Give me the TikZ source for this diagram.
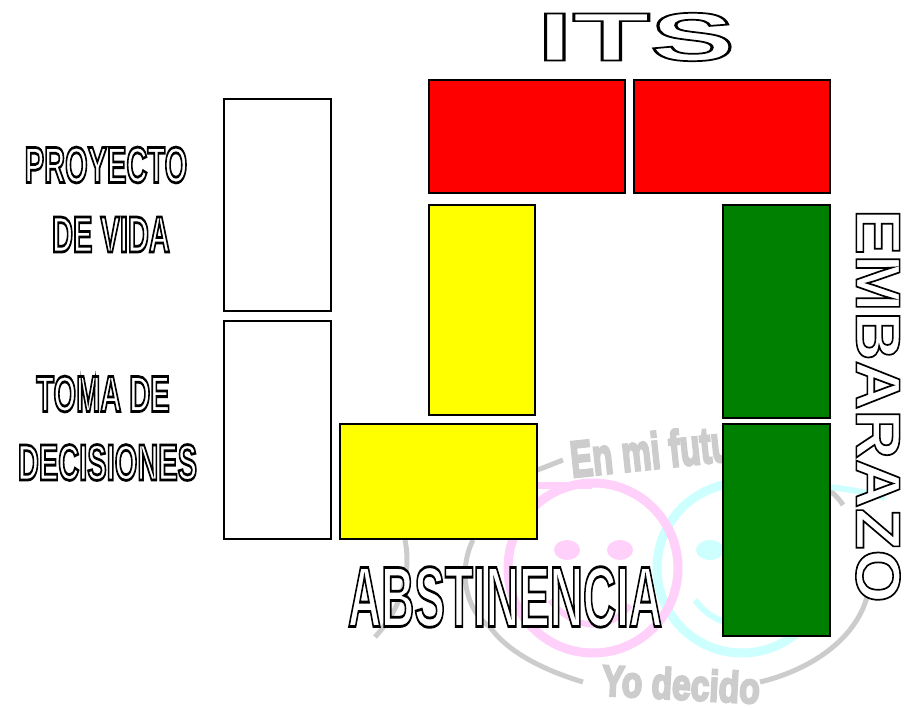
\documentclass[tikz,border=0pt]{standalone}
\usepackage{fontspec}
\setmainfont{Liberation Sans}
\newcommand{\outl}[2]{{\bfseries\color{white}\special{pdf:code 2 Tr 0 0 0 RG #1 w}#2\special{pdf:code 0 Tr}}}
\newcommand{\fatt}[1]{{\bfseries\special{pdf:code 2 Tr 0.8 0.8 0.8 RG 1.6 w}#1\special{pdf:code 0 Tr}}}
\definecolor{pinkw}{RGB}{255,208,250}
\definecolor{cyanw}{RGB}{205,255,255}
\definecolor{greyw}{RGB}{204,204,204}
\definecolor{rd}{RGB}{255,0,0}
\definecolor{yl}{RGB}{255,255,0}
\definecolor{gr}{RGB}{0,128,0}
\tikzset{
 x=1pt,y=-1pt,
 box/.style={draw=black,line width=2pt,inner sep=0pt},
 outlabel/.style={inner sep=0pt,transform shape},
 wm/.style={draw=greyw,line width=5pt},
 markwm/.style={inner sep=0pt,text=greyw,font=\bfseries\fontsize{30}{30}\selectfont,transform shape},
}
\begin{document}
\begin{tikzpicture}
\useasboundingbox (0,0) rectangle (909,708);
% watermark
\draw[wm] (535,471) -- (563,460);
\draw[wm] (473,540) .. controls (458,570) and (465,610) .. (490,627) .. controls (510,655) and (550,672) .. (583,682);
\draw[wm] (760,682) .. controls (810,670) and (855,640) .. (867,597);
\draw[wm] (817,480) .. controls (830,490) and (838,497) .. (843,505);
\draw[wm] (405,540) .. controls (412,575) and (400,610) .. (375,637);
\draw[draw=cyanw,line width=9pt] (742,568) circle[radius=85];
\draw[draw=cyanw,line width=6pt] (790,486) .. controls (820,484) and (860,490) .. (885,498);
\draw[draw=pinkw,line width=9pt] (593,568) circle[radius=85];
\draw[draw=pinkw,line width=7pt] (535,485) -- (592,485);
\fill[pinkw] (567,550) ellipse[x radius=13,y radius=10];
\fill[pinkw] (620,550) ellipse[x radius=13,y radius=10];
\fill[cyanw] (710,550) ellipse[x radius=14,y radius=10];
\draw[draw=pinkw,line width=6pt] (550,600) .. controls (575,632) and (610,632) .. (630,605);
\draw[draw=cyanw,line width=6pt] (695,600) .. controls (702,610) and (712,618) .. (725,622);
\node[markwm,rotate=6,xscale=1.1,yscale=1.7] (enmi) at (667,449) {\fatt{En mi futuro}};
\node[markwm,rotate=-3,xscale=1.12,yscale=1.45] (yo) at (681,684) {\fatt{Yo decido}};
% boxes
\node[box,fill=rd,minimum width=196pt,minimum height=113pt] (r1) at (526.5,137) {};
\node[box,fill=rd,minimum width=196pt,minimum height=113pt] (r2) at (732,137) {};
\node[box,fill=yl,minimum width=106pt,minimum height=209pt] (y1) at (481.5,310) {};
\node[box,fill=yl,minimum width=197pt,minimum height=115pt] (y2) at (438.5,481.5) {};
\node[box,fill=gr,minimum width=107pt,minimum height=212pt] (g1) at (776,311.5) {};
\node[box,fill=gr,minimum width=107pt,minimum height=212pt] (g2) at (776,530) {};
\node[box,fill=white,minimum width=107pt,minimum height=211pt] (w1) at (277,205) {};
\node[box,fill=white,minimum width=107pt,minimum height=218pt] (w2) at (277,430) {};
% labels
\node[outlabel,xscale=2.27,yscale=1.22] (its) at (636,37) {\fontsize{56}{56}\selectfont\outl{1.4}{ITS}};
\node[outlabel,xscale=0.83,yscale=1.45] (pv1) at (106,165) {\fontsize{35}{35}\selectfont\outl{1.9}{PROYECTO}};
\node[outlabel,xscale=0.83,yscale=1.45] (pv2) at (111,234.5) {\fontsize{35}{35}\selectfont\outl{1.9}{DE VIDA}};
\node[outlabel,xscale=0.83,yscale=1.45] (td1) at (103,394) {\fontsize{35}{35}\selectfont\outl{1.9}{TOMA DE}};
\node[outlabel,xscale=0.83,yscale=1.45] (td2) at (107.5,462.5) {\fontsize{35}{35}\selectfont\outl{1.9}{DECISIONES}};
\node[outlabel,xscale=1.0,yscale=1.86] (abs) at (505,597) {\fontsize{46}{46}\selectfont\outl{1.5}{ABSTINENCIA}};
\node[outlabel,rotate=-90,xscale=1.216,yscale=1.12] (emb) at (878,406) {\fontsize{56}{56}\selectfont\outl{1.4}{EMBARAZO}};
\end{tikzpicture}
\end{document}
